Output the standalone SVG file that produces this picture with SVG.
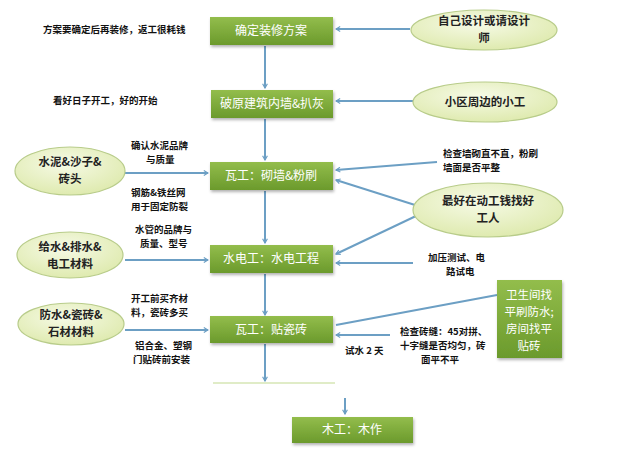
<svg xmlns="http://www.w3.org/2000/svg" width="617" height="469" viewBox="0 0 617 469">
<defs>
<linearGradient id="gBox" x1="0" y1="0" x2="0" y2="1">
<stop offset="0" stop-color="#93bd4c"/><stop offset="1" stop-color="#6b9a2c"/>
</linearGradient>
<radialGradient id="gEll" cx="0.45" cy="0.35" r="0.7">
<stop offset="0" stop-color="#f6fae6"/><stop offset="1" stop-color="#dde9ab"/>
</radialGradient>
<filter id="sh" x="-10%" y="-10%" width="130%" height="140%">
<feDropShadow dx="1" dy="2" stdDeviation="1.5" flood-color="#000" flood-opacity="0.3"/>
</filter>
<marker id="ah" viewBox="0 0 10 10" refX="8" refY="5" markerWidth="6" markerHeight="6" orient="auto" markerUnits="userSpaceOnUse">
<path d="M1,1 L8,5 L1,9" fill="none" stroke="#6c9fc4" stroke-width="2"/>
</marker>
</defs>
<style>
.box{fill:url(#gBox);filter:url(#sh)}
.bt{font-family:"Noto Sans CJK SC","Noto Sans",sans-serif;font-size:12px;fill:#fff;text-anchor:middle}
.bt2{font-family:"Noto Sans CJK SC","Noto Sans",sans-serif;font-size:11.5px;fill:#fff;text-anchor:middle}
.ell{fill:url(#gEll);stroke:#b8cc8a;stroke-width:1.2}
.et{font-family:"Noto Sans CJK SC","Noto Sans",sans-serif;font-size:11.5px;font-weight:bold;fill:#222;text-anchor:middle}
.lt{font-family:"Noto Sans CJK SC","Noto Sans",sans-serif;font-size:9.5px;font-weight:bold;fill:#111}
.c{fill:none;stroke:#6c9fc4;stroke-width:2}
.ca{fill:none;stroke:#6c9fc4;stroke-width:2;marker-end:url(#ah)}
</style>
<rect width="617" height="469" fill="#fff"/>
<g id="connectors">
<line class="ca" x1="265" y1="46" x2="265" y2="88"/>
<line class="ca" x1="265" y1="119" x2="265" y2="160"/>
<line class="ca" x1="265" y1="191" x2="265" y2="243"/>
<line class="ca" x1="265" y1="274" x2="265" y2="315"/>
<line class="ca" x1="265" y1="344" x2="265" y2="381"/>
<line x1="213" y1="383" x2="335" y2="383" stroke="#d6e6b4" stroke-width="1.5"/>
<line class="ca" x1="345" y1="398" x2="345" y2="414"/>
<line class="ca" x1="410" y1="29" x2="336" y2="29"/>
<line class="ca" x1="413" y1="101" x2="336" y2="101"/>
<line class="ca" x1="125" y1="173" x2="208" y2="173"/>
<line class="ca" x1="125" y1="260" x2="208" y2="260"/>
<line class="ca" x1="125" y1="330" x2="208" y2="330"/>
<line class="ca" x1="437" y1="162" x2="336" y2="170"/>
<line class="ca" x1="415" y1="205" x2="336" y2="180"/>
<line class="ca" x1="416" y1="216" x2="336" y2="254"/>
<line class="ca" x1="413" y1="263" x2="336" y2="263"/>
<line class="c" x1="497" y1="295" x2="336" y2="325"/>
<line class="ca" x1="390" y1="335" x2="336" y2="335"/>
</g>
<g id="n1"><rect class="box" x="210" y="17" width="123" height="28"/><text class="bt" x="271" y="35">确定装修方案</text></g>
<g id="n2"><rect class="box" x="211" y="90" width="122" height="28"/><text class="bt" x="272" y="108">破原建筑内墙&amp;扒灰</text></g>
<g id="n3"><rect class="box" x="210" y="162" width="123" height="28"/><text class="bt" x="271" y="180">瓦工：砌墙&amp;粉刷</text></g>
<g id="n4"><rect class="box" x="210" y="245" width="123" height="28"/><text class="bt" x="271" y="263">水电工：水电工程</text></g>
<g id="n5"><rect class="box" x="210" y="316" width="123" height="27"/><text class="bt" x="271" y="334">瓦工：贴瓷砖</text></g>
<g id="n6"><rect class="box" x="292" y="417" width="121" height="26"/><text class="bt" x="352" y="434">木工：木作</text></g>
<g id="n7"><rect class="box" x="497" y="280" width="65" height="78"/>
<text class="bt2" x="529" y="299">卫生间找</text><text class="bt2" x="529" y="316">平刷防水;</text><text class="bt2" x="529" y="333">房间找平</text><text class="bt2" x="529" y="350">贴砖</text></g>
<g id="e1"><ellipse class="ell" cx="484" cy="30" rx="73" ry="20"/><text class="et" x="484" y="25">自己设计或请设计</text><text class="et" x="484" y="42">师</text></g>
<g id="e2"><ellipse class="ell" cx="485" cy="102" rx="72" ry="20"/><text class="et" x="485" y="106">小区周边的小工</text></g>
<g id="e3"><ellipse class="ell" cx="70" cy="171" rx="55" ry="24"/><text class="et" x="70" y="166">水泥&amp;沙子&amp;</text><text class="et" x="70" y="183">砖头</text></g>
<g id="e4"><ellipse class="ell" cx="70" cy="255" rx="53" ry="23"/><text class="et" x="70" y="251">给水&amp;排水&amp;</text><text class="et" x="70" y="268">电工材料</text></g>
<g id="e5"><ellipse class="ell" cx="71" cy="324" rx="53" ry="21"/><text class="et" x="71" y="319">防水&amp;瓷砖&amp;</text><text class="et" x="71" y="336">石材材料</text></g>
<g id="e6"><ellipse class="ell" cx="488" cy="210" rx="75" ry="27"/><text class="et" x="488" y="205">最好在动工钱找好</text><text class="et" x="488" y="222">工人</text></g>
<g id="labels">
<text class="lt" x="43" y="33">方案要确定后再装修，返工很耗钱</text>
<text class="lt" x="53" y="104">看好日子开工，好的开始</text>
<text class="lt" x="131" y="149">确认水泥品牌</text><text class="lt" x="146" y="163">与质量</text>
<text class="lt" x="131" y="196">钢筋&amp;铁丝网</text><text class="lt" x="131" y="210">用于固定防裂</text>
<text class="lt" x="135" y="233">水管的品牌与</text><text class="lt" x="140" y="247">质量、型号</text>
<text class="lt" x="131" y="302">开工前买齐材</text><text class="lt" x="131" y="316">料，瓷砖多买</text>
<text class="lt" x="135" y="349">铝合金、塑钢</text><text class="lt" x="133" y="363">门贴砖前安装</text>
<text class="lt" x="443" y="157">检查墙砌直不直，粉刷</text><text class="lt" x="443" y="171">墙面是否平整</text>
<text class="lt" x="428" y="261">加压测试、电</text><text class="lt" x="446" y="275">路试电</text>
<text class="lt" x="400" y="335">检查砖缝：45对拼、</text><text class="lt" x="400" y="349">十字缝是否均匀，砖</text><text class="lt" x="421" y="363">面平不平</text>
<text class="lt" x="345" y="354">试水 2 天</text>
</g>
</svg>
